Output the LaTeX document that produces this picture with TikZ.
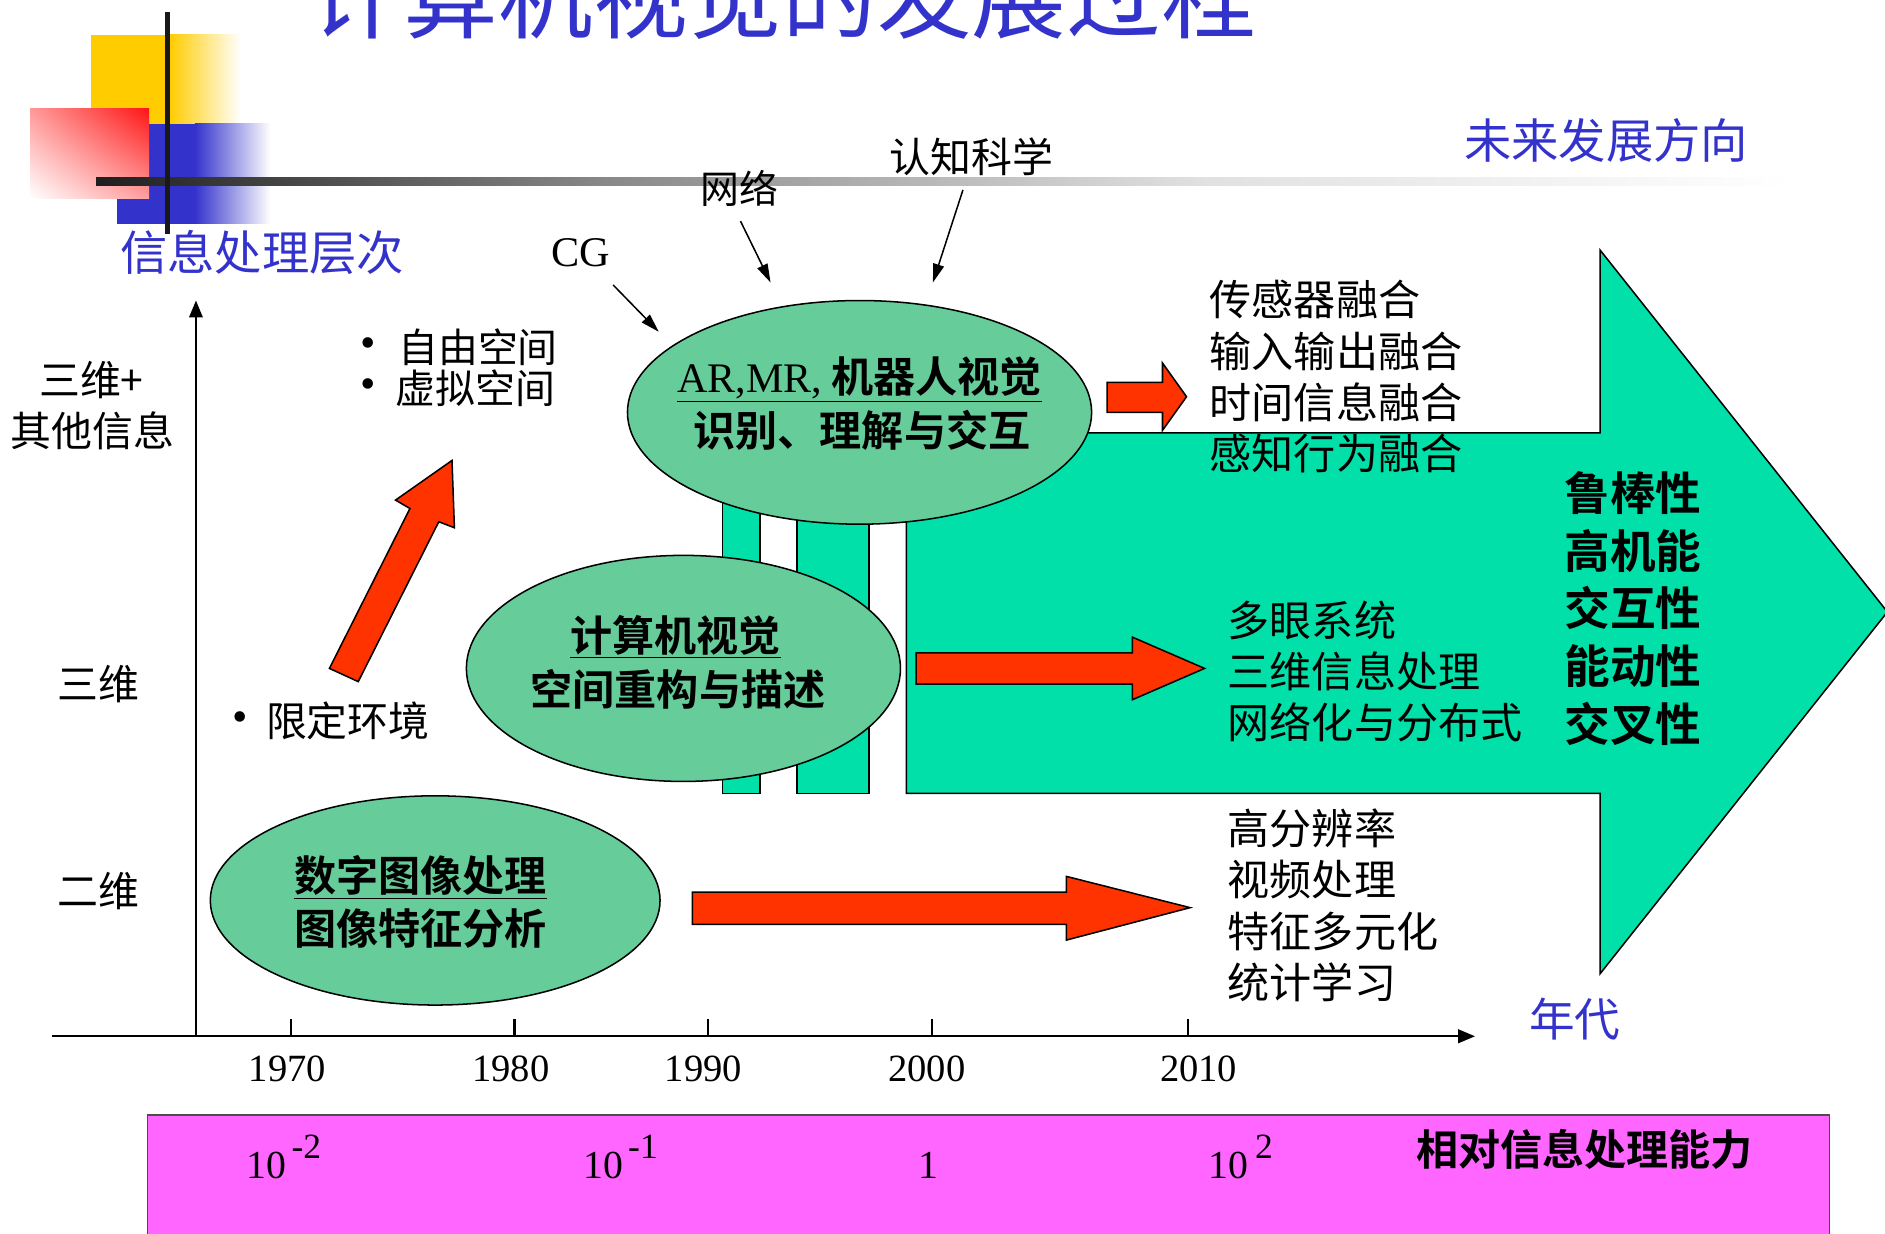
\documentclass[tikz,border=0pt]{standalone}
\usepackage{fontspec}
\setmainfont{Noto Sans CJK SC}[BoldFont={Noto Sans CJK SC Bold}]
\newfontfamily\tms{Liberation Serif}
\usetikzlibrary{shapes.geometric,arrows.meta,shadings}
\definecolor{tblue}{RGB}{51,51,204}
\definecolor{egreen}{RGB}{102,204,153}
\definecolor{agreen}{RGB}{0,224,168}
\definecolor{ared}{RGB}{255,51,0}
\definecolor{apink}{RGB}{255,102,255}
\definecolor{ayel}{RGB}{255,204,0}
\tikzset{
  cjk/.style={inner sep=0pt, font=\fontsize{24.9}{30.4}\selectfont},
  cjkb/.style={inner sep=0pt, font=\bfseries\fontsize{24.9}{24.9}\selectfont},
  bluetxt/.style={inner sep=0pt, text=tblue, font=\fontsize{28}{28}\selectfont},
  blockarrow/.style={fill=ared, draw=black, line width=0.9pt, line join=miter},
  thinarrow/.style={draw=black, line width=0.9pt, -{Triangle[length=11pt,width=6.5pt]}},
  axisline/.style={draw=black, line width=1.4pt, -{Triangle[length=10pt,width=8pt]}},
  blob/.style={ellipse, draw=black, line width=0.9pt, fill=egreen, inner sep=0pt},
  greenshape/.style={fill=agreen, draw=black, line width=0.9pt},
  yeartxt/.style={inner sep=0pt, font=\tms\fontsize{22.8}{22.8}\selectfont},
  numtxt/.style={inner sep=0pt, anchor=base west, font=\tms\fontsize{23.5}{23.5}\selectfont},
  bullet/.style={inner sep=0pt, font=\tms\fontsize{26}{26}\selectfont},
}
\newcommand\supx[1]{\raisebox{11.4pt}{\fontsize{21}{21}\selectfont #1}}
\begin{document}
\begin{tikzpicture}[x=0.025cm,y=-0.025cm]
\useasboundingbox (0,0) rectangle (1568,1026);
% ---------- corner decoration ----------
\fill[ayel] (76,29) rectangle (141,103);
\shade[left color=ayel,right color=white] (141,29) rectangle (200,103);
\fill[tblue] (97,103) rectangle (162,186);
\shade[left color=tblue,right color=white] (162,103) rectangle (225,186);
\shade[upper left=red!40,upper right=red!92,lower left=white,lower right=red!38] (25,90) rectangle (124,165);
\shade[left color=black!88,right color=black!47] (80,148) rectangle (500,154);
\shade[left color=black!47,right color=black!12] (500,148) rectangle (1000,154);
\shade[left color=black!12,right color=white] (1000,148) rectangle (1490,154);
\fill[black!90] (137,10) rectangle (141.5,195);
% ---------- title and headings ----------
\node[inner sep=0pt, text=tblue, font=\fontsize{56}{56}\selectfont] (title) at (651,-4) {计算机视觉的发展过程};
\node[bluetxt] (future) at (1336,117) {未来发展方向};
\node[bluetxt] (level) at (218,210) {信息处理层次};
\node[bluetxt, font=\fontsize{27}{27}\selectfont] (era) at (1310,848) {年代};
\node[cjk, font=\fontsize{24.2}{24.2}\selectfont] (cogn) at (808,130) {认知科学};
\node[cjk, font=\fontsize{23}{23}\selectfont] (net) at (615,157) {网络};
\node[inner sep=0pt, font=\tms\fontsize{25}{25}\selectfont] (cg) at (483,210) {CG};
% ---------- big green arrow ----------
\draw[greenshape] (754,360) -- (1331,360) -- (1331,208) -- (1570,509) -- (1331,810) -- (1331,660) -- (754,660) -- cycle;
\draw[greenshape] (601,400) rectangle (632,660);
\draw[greenshape] (663,400) rectangle (723,660);
% ---------- axes ----------
\coordinate (origin) at (163,862);
\coordinate (ytop) at (163,250);
\coordinate (xleft) at (43,862);
\coordinate (xright) at (1227,862);
\draw[axisline, line width=1.1pt] (origin) -- (ytop);
\draw[axisline] (xleft) -- (xright);
\foreach \x in {242,428,589,775,988} \draw[line width=1.4pt] (\x,848) -- (\x,862);
\node[yeartxt] (y1970) at (239,889) {1970};
\node[yeartxt] (y1980) at (425,889) {1980};
\node[yeartxt] (y1990) at (585,889) {1990};
\node[yeartxt] (y2000) at (771,889) {2000};
\node[yeartxt] (y2010) at (997,889) {2010};
\node[cjk, font=\fontsize{24.2}{24.2}\selectfont] (l3p) at (76,316) {三维+};
\node[cjk, font=\fontsize{24.2}{24.2}\selectfont] (l3q) at (77,358) {其他信息};
\node[cjk, font=\fontsize{24.2}{24.2}\selectfont] (l3) at (82,569) {三维};
\node[cjk, font=\fontsize{24.2}{24.2}\selectfont] (l2) at (82,741) {二维};
% ---------- bullets ----------
\node[bullet] (b1) at (306,289) {•};
\node[bullet] (b2) at (306,323) {•};
\node[bullet] (b3) at (200,600) {•};
\node[cjk, anchor=west, font=\fontsize{23.6}{23.6}\selectfont] (free) at (331,289) {自由空间};
\node[cjk, anchor=west, font=\fontsize{23.6}{23.6}\selectfont] (virt) at (329,323) {虚拟空间};
\node[cjk, anchor=west, font=\fontsize{24.2}{24.2}\selectfont] (limit) at (221,600) {限定环境};
% ---------- diagonal red arrow ----------
\draw[blockarrow] (376,383) -- (378,439) -- (365,434) -- (298,567) -- (274,556) -- (341,423) -- (329,416) -- cycle;
% ---------- ellipses ----------
\node[blob, minimum width=9.65cm, minimum height=4.65cm] (e1) at (715,343) {};
\node[blob, minimum width=9.025cm, minimum height=4.7cm] (e2) at (568.5,556) {};
\node[blob, minimum width=9.35cm, minimum height=4.35cm] (e3) at (362,749) {};
\node[cjkb] (e1a) at (715,316) {\underline{{\tms\mdseries AR,MR,} 机器人视觉}};
\node[cjkb] (e1b) at (717,358) {识别、理解与交互};
\node[cjkb] (e2a) at (562,530) {\underline{计算机视觉}};
\node[cjkb] (e2b) at (564,573) {空间重构与描述};
\node[cjkb] (e3a) at (350,730) {\underline{数字图像处理}};
\node[cjkb] (e3b) at (350,772) {图像特征分析};
% ---------- thin arrows ----------
\coordinate (cgtail) at (510,237);
\coordinate (cghead) at (548,276);
\coordinate (nettail) at (616,184);
\coordinate (nethead) at (641,235);
\coordinate (cogtail) at (801,158);
\coordinate (coghead) at (776,235);
\draw[thinarrow] (cgtail) -- (cghead);
\draw[thinarrow] (nettail) -- (nethead);
\draw[thinarrow] (cogtail) -- (coghead);
% ---------- red block arrows ----------
\draw[blockarrow] (921,318) -- (967,318) -- (967,302) -- (987,330) -- (967,358) -- (967,343) -- (921,343) -- cycle;
\draw[blockarrow] (762,543) -- (942,543) -- (942,530) -- (1002,556) -- (942,582) -- (942,569) -- (762,569) -- cycle;
\draw[blockarrow] (576,742) -- (887,742) -- (887,729) -- (990,755) -- (887,782) -- (887,769) -- (576,769) -- cycle;
% ---------- right-hand texts ----------
\node[cjk, anchor=west, align=left] (fusion) at (1006,313.5) {传感器融合\\输入输出融合\\时间信息融合\\感知行为融合};
\node[cjk, anchor=west, align=left] (multi) at (1021,558.5) {多眼系统\\三维信息处理\\网络化与分布式};
\node[cjk, anchor=west, align=left] (hires) at (1021,753) {高分辨率\\视频处理\\特征多元化\\统计学习};
\node[inner sep=0pt, anchor=west, align=left, font=\bfseries\fontsize{27}{34.1}\selectfont] (traits) at (1301,506) {鲁棒性\\高机能\\交互性\\能动性\\交叉性};
% ---------- bottom band ----------
\node[draw=black!70, line width=0.9pt, fill=apink, anchor=north west, minimum width=34.975cm, minimum height=2.8cm, inner sep=0pt] (band) at (122,927) {};
\node[numtxt] (p1) at (205,980) {10\hspace{3pt}\supx{-2}};
\node[numtxt] (p2) at (485,980) {10\hspace{3pt}\supx{-1}};
\node[numtxt, anchor=base] (p3) at (772,980) {1};
\node[numtxt] (p4) at (1005,980) {10\hspace{4pt}\supx{2}};
\node[cjkb] (ability) at (1318,956) {相对信息处理能力};
\end{tikzpicture}
\end{document}
